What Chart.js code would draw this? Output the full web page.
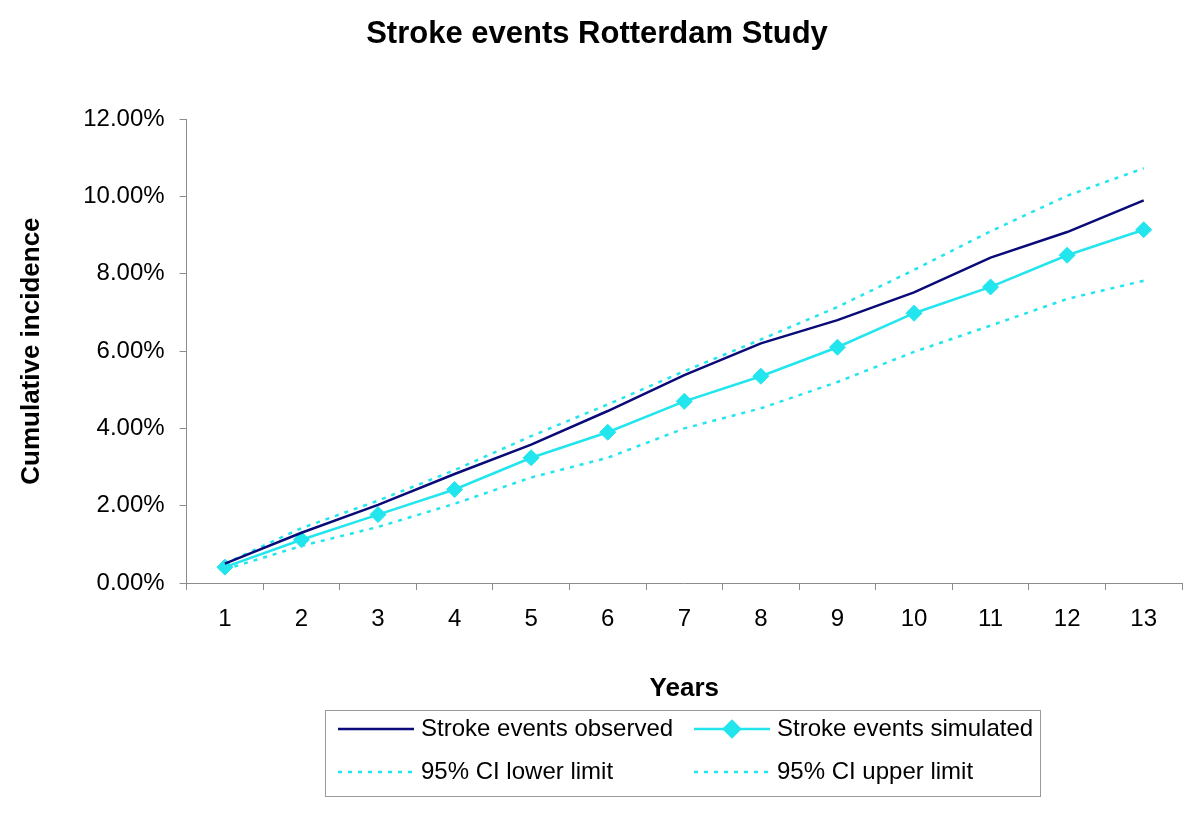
<!DOCTYPE html>
<html>
<head>
<meta charset="utf-8">
<title>Stroke events Rotterdam Study</title>
<script src="https://cdn.jsdelivr.net/npm/chart.js@4.4.1/dist/chart.umd.min.js"></script>
<style>
    html, body { margin: 0; padding: 0; background: #fff; }
    #wrap { width: 1200px; height: 816px; }
</style>
</head>
<body>
<div id="wrap"><canvas id="strokeChart" width="1200" height="816"></canvas></div>
<script>
// -------------------------------------------------------------------------
// Data (cumulative incidence, %)
// -------------------------------------------------------------------------
const years = ['1', '2', '3', '4', '5', '6', '7', '8', '9', '10', '11', '12', '13'];
const observed = [0.50, 1.30, 2.02, 2.82, 3.58, 4.45, 5.38, 6.20, 6.80, 7.52, 8.42, 9.08, 9.90];
const simulated = [0.41, 1.12, 1.77, 2.42, 3.24, 3.90, 4.70, 5.35, 6.10, 6.98, 7.66, 8.48, 9.14];
const ciLower = [0.35, 0.96, 1.45, 2.05, 2.73, 3.24, 4.00, 4.52, 5.20, 5.98, 6.66, 7.35, 7.82];
const ciUpper = [0.50, 1.42, 2.13, 2.92, 3.80, 4.62, 5.48, 6.30, 7.14, 8.10, 9.10, 10.02, 10.73];
const yMin = 0, yMax = 12, yStep = 2;

const FONT = '"Liberation Sans", Arial, sans-serif';
const NAVY = '#0A0A78';
const CYAN = '#22E5EE';

// -------------------------------------------------------------------------
// Boxed two-column legend, drawn from the dataset styles
// -------------------------------------------------------------------------
const boxLegend = {
    id: 'boxLegend',
    afterDraw(chart) {
        const { ctx, chartArea } = chart;
        const w = 715, h = 86;
        const left = Math.round((chartArea.left + chartArea.right) / 2 - w / 2 - 2);
        const top = Math.round(chartArea.bottom + 127);

        ctx.save();
        ctx.strokeStyle = '#9a9a9a';
        ctx.lineWidth = 1;
        ctx.strokeRect(left + 0.5, top + 0.5, w, h);

        chart.data.datasets.forEach((ds, i) => {
            const x = left + 13 + (i % 2) * 356;
            const y = top + 19 + Math.floor(i / 2) * 43;

            ctx.strokeStyle = ds.borderColor;
            ctx.lineWidth = ds.borderWidth;
            ctx.setLineDash(ds.borderDash || []);
            ctx.beginPath();
            ctx.moveTo(x, y);
            ctx.lineTo(x + 76, y);
            ctx.stroke();
            ctx.setLineDash([]);

            if (ds.pointRadius > 0) {
                ctx.fillStyle = ds.pointBackgroundColor;
                ctx.strokeStyle = ds.pointBorderColor;
                Chart.helpers.drawPoint(ctx, {
                    pointStyle: ds.pointStyle,
                    radius: ds.pointRadius,
                    borderWidth: 1,
                    rotation: 0
                }, x + 38, y);
            }

            ctx.fillStyle = '#000';
            ctx.font = '24px ' + FONT;
            ctx.textBaseline = 'middle';
            ctx.textAlign = 'left';
            ctx.fillText(ds.label, x + 83, y);
        });
        ctx.restore();
    }
};

// -------------------------------------------------------------------------
// Chart
// -------------------------------------------------------------------------
const canvas = document.getElementById('strokeChart');
new Chart(canvas, {
    type: 'line',
    data: {
        labels: years,
        datasets: [
            {
                label: 'Stroke events observed',
                data: observed,
                borderColor: NAVY,
                backgroundColor: NAVY,
                borderWidth: 2.5,
                pointRadius: 0,
                tension: 0
            },
            {
                label: 'Stroke events simulated',
                data: simulated,
                borderColor: CYAN,
                backgroundColor: CYAN,
                borderWidth: 2.5,
                pointStyle: 'rectRot',
                pointRadius: 8,
                pointBackgroundColor: CYAN,
                pointBorderColor: CYAN,
                pointBorderWidth: 1,
                tension: 0
            },
            {
                label: '95% CI lower limit',
                data: ciLower,
                borderColor: CYAN,
                borderWidth: 2.5,
                borderDash: [4, 6],
                pointRadius: 0,
                tension: 0
            },
            {
                label: '95% CI upper limit',
                data: ciUpper,
                borderColor: CYAN,
                borderWidth: 2.5,
                borderDash: [4, 6],
                pointRadius: 0,
                tension: 0
            }
        ]
    },
    options: {
        responsive: false,
        animation: false,
        devicePixelRatio: 1,
        layout: {
            padding: { left: 12, right: 18, top: 0, bottom: 108 }
        },
        plugins: {
            legend: { display: false },
            tooltip: { enabled: false },
            title: {
                display: true,
                text: 'Stroke events Rotterdam Study',
                color: '#000',
                font: { family: FONT, size: 31, weight: 'bold' },
                padding: { top: 16, bottom: 66 }
            }
        },
        scales: {
            x: {
                type: 'category',
                offset: true,
                grid: {
                    offset: true,
                    drawOnChartArea: false,
                    drawTicks: true,
                    tickLength: 7,
                    color: '#8c8c8c'
                },
                border: { color: '#8c8c8c', width: 1 },
                ticks: {
                    color: '#000',
                    font: { family: FONT, size: 24 },
                    padding: 15,
                    maxRotation: 0
                },
                title: {
                    display: true,
                    text: 'Years',
                    color: '#000',
                    font: { family: FONT, size: 26, weight: 'bold' },
                    padding: { top: 24, bottom: 4 }
                }
            },
            y: {
                min: yMin,
                max: yMax,
                grid: {
                    drawOnChartArea: false,
                    drawTicks: true,
                    tickLength: 7,
                    color: '#8c8c8c'
                },
                border: { color: '#8c8c8c', width: 1 },
                ticks: {
                    stepSize: yStep,
                    color: '#000',
                    font: { family: FONT, size: 24 },
                    padding: 15,
                    callback: (v) => v.toFixed(2) + '%'
                },
                title: {
                    display: true,
                    text: 'Cumulative incidence',
                    color: '#000',
                    font: { family: FONT, size: 26, weight: 'bold' },
                    padding: { top: 4, bottom: 21 }
                }
            }
        }
    },
    plugins: [boxLegend]
});
</script>
</body>
</html>
